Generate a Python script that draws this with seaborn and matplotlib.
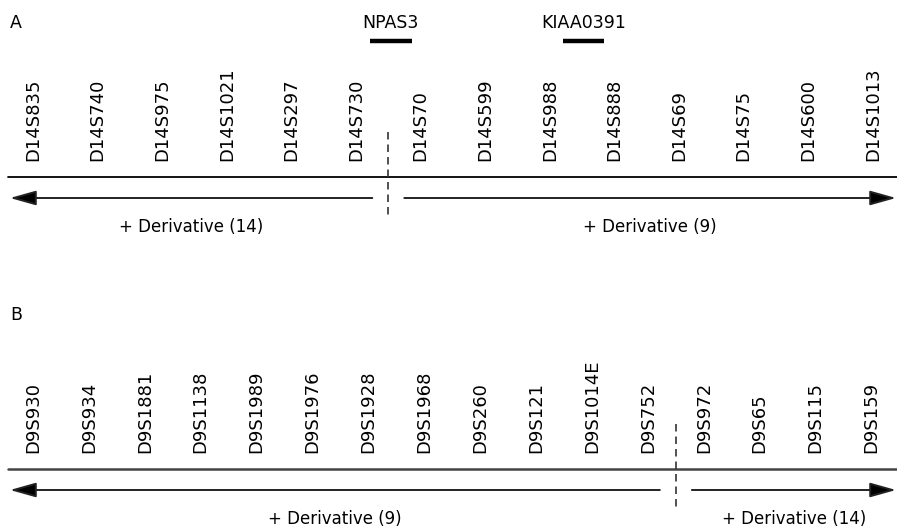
import matplotlib
matplotlib.use("Agg")
import matplotlib.pyplot as plt
import pandas as pd
import seaborn as sns

# Marker order along each derivative chromosome
markers_a = ["D14S835", "D14S740", "D14S975", "D14S1021", "D14S297", "D14S730",
             "D14S70", "D14S599", "D14S988", "D14S888", "D14S69", "D14S75",
             "D14S600", "D14S1013"]
markers_b = ["D9S930", "D9S934", "D9S1881", "D9S1138", "D9S1989", "D9S1976",
             "D9S1928", "D9S1968", "D9S260", "D9S121", "D9S1014E", "D9S752",
             "D9S972", "D9S65", "D9S115", "D9S159"]

# Breakpoint position (in marker index units)
break_a = 5.5
break_b = 11.5

# Genes shown above panel A (start/end in marker index units)
genes_a = ["NPAS3", "KIAA0391"]
gene_start_a = [5.22, 8.2]
gene_end_a = [5.86, 8.84]

# Arrow segment labels
labels_a = ["+ Derivative (14)", "+ Derivative (9)"]
labels_b = ["+ Derivative (9)", "+ Derivative (14)"]

sns.set_theme(style="white")
plt.rcParams["font.family"] = ["DejaVu Sans"]
plt.rcParams["text.color"] = "black"

W, H = 897, 529
fig = plt.figure(figsize=(W / 100, H / 100), dpi=100)


def draw_panel(ax, letter, markers, brk, seg_labels, y0, top, bottom, step,
               genes=None, g_start=None, g_end=None, line_color="black", line_w=1.3):
    x0 = 33  # pixel position of the first marker
    px = lambda p: (p - x0) / step
    ax.set_xlim(px(0), px(W))
    ax.set_ylim(bottom, top)
    ax.axis("off")

    ax.text(px(10), y0 + 28, letter, fontsize=12.5, ha="left", va="baseline")

    for i, name in enumerate(markers):
        ax.text(i, y0 + 161, name, rotation=90, ha="center", va="bottom", fontsize=13)

    # chromosome line
    base = pd.DataFrame({"x": [px(8), px(W)], "y": [y0 + 177] * 2})
    sns.lineplot(data=base, x="x", y="y", ax=ax, color=line_color, lw=line_w)

    # breakpoint
    ax.plot([brk, brk], [y0 + 132, y0 + 218], color="#333333", lw=1.2,
            ls=(0, (4.5, 3)))

    # derivative arrows
    gap = 16 / step
    ay = y0 + 198
    left_tip, right_tip = px(10), px(896)
    arrow = dict(arrowstyle="-|>,head_length=1.6,head_width=0.45", mutation_scale=10,
                 lw=1.4, color="#222222", fc="black", shrinkA=0, shrinkB=0)
    ax.annotate("", xy=(left_tip, ay), xytext=(brk - gap, ay), arrowprops=arrow)
    ax.annotate("", xy=(right_tip, ay), xytext=(brk + gap, ay), arrowprops=arrow)

    ax.text((left_tip + brk - gap) / 2, y0 + 232, seg_labels[0], fontsize=12,
            ha="center", va="baseline")
    ax.text((right_tip + brk + gap) / 2, y0 + 232, seg_labels[1], fontsize=12,
            ha="center", va="baseline")

    if genes:
        for g, s, e in zip(genes, g_start, g_end):
            bar = pd.DataFrame({"x": [s, e], "y": [y0 + 41] * 2})
            sns.lineplot(data=bar, x="x", y="y", ax=ax, color="black", lw=3.2,
                         solid_capstyle="butt")
            ax.text((s + e) / 2, y0 + 28, g, fontsize=12.5, ha="center", va="baseline")


ax_a = fig.add_axes([0, 1 - 265 / H, 1, 265 / H])
ax_b = fig.add_axes([0, 0, 1, 1 - 265 / H])

draw_panel(ax_a, "A", markers_a, break_a, labels_a, 0, 0, 265, 64.6,
           genes_a, gene_start_a, gene_end_a)
draw_panel(ax_b, "B", markers_b, break_b, labels_b, 292, 265, H, 55.9,
           line_color="#444444", line_w=1.8)

fig.savefig("out.png", dpi=100)
